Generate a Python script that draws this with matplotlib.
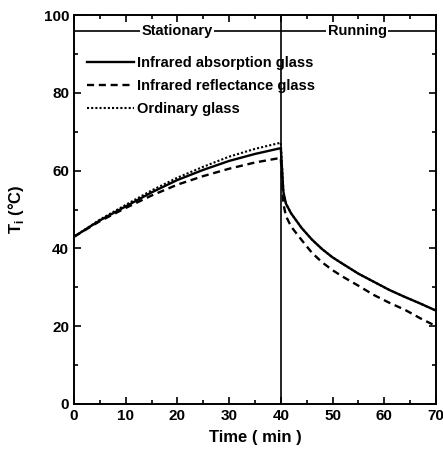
import numpy as np
import matplotlib.pyplot as plt
from matplotlib.ticker import MultipleLocator

plt.rcParams['font.family'] = ['Liberation Sans', 'DejaVu Sans']
plt.rcParams['font.weight'] = 'bold'

# heating with the car parked (0-40 min)
t_stat = [0, 5, 10, 15, 20, 25, 30, 35, 40]
absorb_stat = [43.0, 47.2, 50.8, 54.4, 57.6, 60.2, 62.5, 64.3, 65.8]
reflect_stat = [43.0, 47.0, 50.4, 53.6, 56.4, 58.6, 60.5, 62.1, 63.3]
ordinary_stat = [43.0, 47.4, 51.2, 54.9, 58.2, 61.0, 63.6, 65.6, 67.2]

# cooling while driving (40-70 min)
t_run = [40, 40.5, 41, 42, 44, 46, 48, 50, 52, 55, 58, 61, 64, 67, 70]
absorb_run = [65.8, 54.5, 51.5, 49.0, 45.3, 42.3, 39.8, 37.7, 36.0, 33.5, 31.4, 29.3, 27.5, 25.8, 24.0]
reflect_run = [63.3, 51.5, 48.3, 45.6, 42.2, 38.9, 36.4, 34.4, 32.7, 30.4, 28.0, 26.0, 24.2, 22.0, 20.0]
ordinary_run = [67.2, 54.6, 51.5, 49.0, 45.3, 42.3, 39.8, 37.7, 36.0, 33.5, 31.4, 29.3, 27.5, 25.8, 24.0]

t = t_stat + t_run[1:]
absorb = absorb_stat + absorb_run[1:]
reflect = reflect_stat + reflect_run[1:]
ordinary = ordinary_stat + ordinary_run[1:]

fig = plt.figure(figsize=(4.43, 4.61), dpi=100)
ax = fig.add_axes([0.167, 0.124, 0.817, 0.843])

ax.plot(t, absorb, color='black', lw=1.7, ls='-', label='Infrared absorption glass')
ax.plot(t, reflect, color='black', lw=1.7, ls=(0, (3, 2)), label='Infrared reflectance glass')
ax.plot(t, ordinary, color='black', lw=1.5, ls=(0, (1, 1)), label='Ordinary glass')

# phase divider and headers
ax.axvline(40, color='black', lw=1.2)
ax.hlines(96, 0, 70, color='black', lw=1.2)
ax.text(20, 96, 'Stationary', ha='center', va='center', fontsize=10.5,
        bbox=dict(facecolor='white', edgecolor='none', pad=1))
ax.text(54.8, 96, 'Running', ha='center', va='center', fontsize=10.5,
        bbox=dict(facecolor='white', edgecolor='none', pad=1))

ax.set_xlim(0, 70)
ax.set_ylim(0, 100)
ax.xaxis.set_major_locator(MultipleLocator(10))
ax.xaxis.set_minor_locator(MultipleLocator(5))
ax.yaxis.set_major_locator(MultipleLocator(20))
ax.yaxis.set_minor_locator(MultipleLocator(10))
ax.tick_params(which='both', direction='in', top=True, right=True, labelsize=11, width=1.2)
ax.tick_params(which='major', length=5)
ax.tick_params(which='minor', length=3)
for s in ax.spines.values():
    s.set_linewidth(1.4)

ax.set_xlabel('Time ( min )', fontsize=12, fontweight='bold', labelpad=5)
ax.set_ylabel('T$_\\mathregular{i}$ (°C)', fontsize=12, fontweight='bold', labelpad=13)

ax.legend(loc='upper left', bbox_to_anchor=(0.005, 0.925), frameon=False, fontsize=10.5,
          handlelength=3.2, handletextpad=0.2, labelspacing=0.62, borderaxespad=0.4)

fig.savefig('out.png', dpi=100)
